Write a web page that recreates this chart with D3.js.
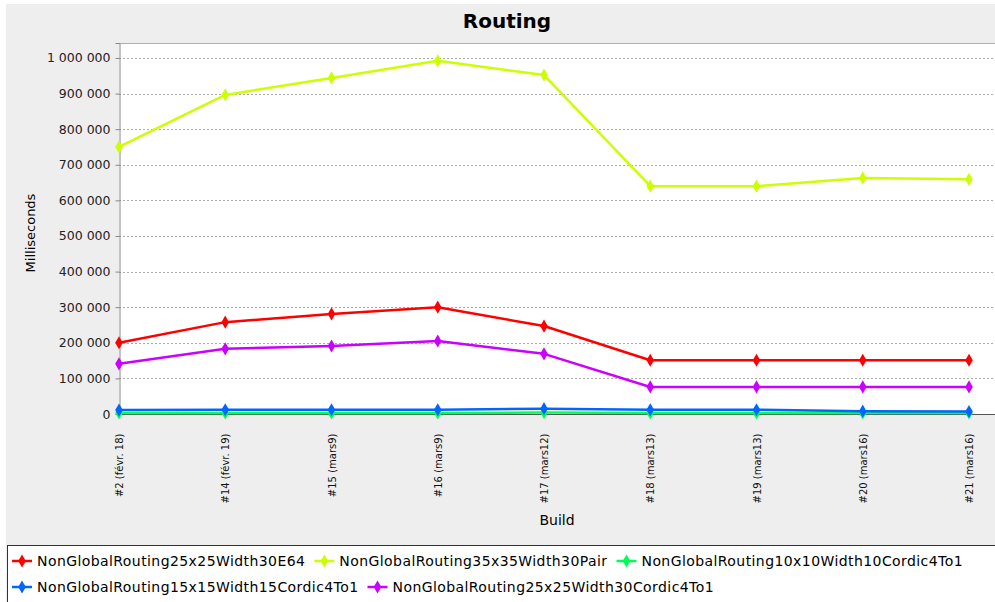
<!DOCTYPE html>
<html>
<head>
<meta charset="utf-8">
<script src="https://cdn.jsdelivr.net/npm/d3@7"></script>
<style>
  body { margin: 0; background: #fff; }
  svg { display: block; font-family: "DejaVu Sans", sans-serif; }
</style>
</head>
<body>
<svg class="chart" width="995" height="602"></svg>
<script>

// Build labels on the x axis.
var builds = ["#2 (févr. 18)", "#14 (févr. 19)", "#15 (mars9)", "#16 (mars9)",
  "#17 (mars12)", "#18 (mars13)", "#19 (mars13)", "#20 (mars16)", "#21 (mars16)"];

// Series names, as in the legend.
var seriesNames = ["NonGlobalRouting25x25Width30E64", "NonGlobalRouting35x35Width30Pair",
  "NonGlobalRouting10x10Width10Cordic4To1", "NonGlobalRouting15x15Width15Cordic4To1",
  "NonGlobalRouting25x25Width30Cordic4To1"];

// Milliseconds per build.
var routing25E64 = [200000, 258000, 281000, 300000, 247000, 151000, 151000, 151000, 151000];
var routing35Pair = [750000, 896000, 944000, 992000, 952000, 640000, 640000, 663000, 659000];
var routing10Cordic = [3000, 3000, 3000, 3000, 4000, 3000, 3000, 3000, 3000];
var routing15Cordic = [11000, 12000, 12000, 12000, 15000, 12000, 12000, 8000, 7000];
var routing25Cordic = [141000, 183000, 191000, 205000, 169000, 76000, 76000, 76000, 76000];

var yTicks = [0, 100000, 200000, 300000, 400000, 500000, 600000, 700000, 800000, 900000, 1000000];

var colors = ["#ff0000", "#ccff00", "#00ff55", "#0066ff", "#cc00ff"];

var seriesValues = [routing25E64, routing35Pair, routing10Cordic, routing15Cordic, routing25Cordic];

function drawChart() {

  var svg = d3.select(".chart");

  // Panel background.
  svg.append("rect")
      .attr("x", 6).attr("y", 4)
      .attr("width", 989).attr("height", 598)
      .attr("fill", "#eeeeee");

  var plot = {left: 119, top: 43, right: 995, bottom: 414};

  x = d3.scalePoint()
      .domain(builds)
      .range([119, 969]);

  y = d3.scaleLinear()
      .domain([0, 1042000])
      .range([plot.bottom, plot.top]);

  // Plot area.
  svg.append("rect")
      .attr("x", plot.left).attr("y", plot.top)
      .attr("width", plot.right - plot.left).attr("height", plot.bottom - plot.top)
      .attr("fill", "#fff");

  svg.append("line")
      .attr("x1", plot.left).attr("x2", plot.right)
      .attr("y1", plot.top + 0.5).attr("y2", plot.top + 0.5)
      .attr("stroke", "#b0b0b0");

  // Title.
  svg.append("text")
      .attr("x", 507).attr("y", 28)
      .attr("text-anchor", "middle")
      .style("font-size", "20px")
      .style("font-weight", "bold")
      .text("Routing");

  drawGrid(svg, plot);
  drawYAxis(svg, plot);
  drawXAxis(svg, plot);
  drawLines(svg);
  drawLegend(svg);
}

/*
* Dashed horizontal grid lines.
*/
function drawGrid(svg, plot) {
  svg.append("g")
      .selectAll("line")
      .data(yTicks.slice(1))
      .enter().append("line")
        .attr("x1", plot.left).attr("x2", plot.right)
        .attr("y1", function(d) { return Math.round(y(d)) + 0.5; })
        .attr("y2", function(d) { return Math.round(y(d)) + 0.5; })
        .attr("stroke", "#aaaaaa")
        .attr("stroke-dasharray", "2,2");
}

/*
* Y axis with space-grouped labels and title.
*/
function drawYAxis(svg, plot) {

  var locale = d3.formatLocale({decimal: ",", thousands: "\u00a0", grouping: [3], currency: ["", ""]});

  var yAxis = d3.axisLeft(y)
      .tickValues(yTicks)
      .tickSize(4)
      .tickPadding(5)
      .tickFormat(locale.format(",d"));

  var g = svg.append("g")
      .attr("transform", "translate(" + (plot.left + 0.5) + ",0)")
      .call(yAxis);
  g.select(".domain").attr("stroke", "#888");
  g.selectAll(".tick line").attr("stroke", "#888");
  g.selectAll(".tick text")
      .attr("fill", "#222")
      .style("font-size", "12.5px")
      .style("font-family", "DejaVu Sans");

  svg.append("text")
      .attr("transform", "translate(35,233) rotate(-90)")
      .attr("text-anchor", "middle")
      .style("font-size", "13px")
      .text("Milliseconds");
}

/*
* X axis with rotated build labels and title.
*/
function drawXAxis(svg, plot) {

  var xAxis = d3.axisBottom(x)
      .tickSize(0)
      .tickPadding(0);

  var g = svg.append("g")
      .attr("transform", "translate(0," + (plot.bottom + 0.5) + ")")
      .call(xAxis);
  g.select(".domain")
      .attr("d", "M" + plot.left + ",0H" + plot.right)
      .attr("stroke", "#555");
  g.selectAll(".tick text")
      .style("text-anchor", "end")
      .style("font-size", "10px")
      .style("font-family", "DejaVu Sans")
      .attr("fill", "#111")
      .attr("y", 0)
      .attr("dy", "0.35em")
      .attr("transform", "translate(0,19) rotate(-90)");

  svg.append("text")
      .attr("x", 557).attr("y", 525)
      .attr("text-anchor", "middle")
      .style("font-size", "14px")
      .text("Build");
}

/*
* Lines with diamond markers.
*/
function drawLines(svg) {

  var line = d3.line()
      .x(function(d, i) { return x(builds[i]); })
      .y(function(d) { return y(d); });

  var diamond = d3.symbol().type(d3.symbolDiamond).size(50);

  seriesValues.forEach(function(values, s) {
    var g = svg.append("g");
    g.append("path")
        .datum(values)
        .attr("d", line)
        .attr("fill", "none")
        .attr("stroke", colors[s])
        .attr("stroke-width", 2.5)
        .attr("stroke-linejoin", "round");
    g.selectAll("path.marker")
        .data(values)
        .enter().append("path")
          .attr("class", "marker")
          .attr("d", diamond)
          .attr("fill", colors[s])
          .attr("transform", function(d, i) { return "translate(" + x(builds[i]) + "," + y(d) + ")"; });
  });
}

/*
* Legend box with flowing items.
*/
function drawLegend(svg) {

  svg.append("rect")
      .attr("x", 7.5).attr("y", 545.5)
      .attr("width", 995).attr("height", 80)
      .attr("fill", "#fff")
      .attr("stroke", "#333");

  var diamond = d3.symbol().type(d3.symbolDiamond).size(50);
  var xPos = 12, row = 0;

  seriesNames.forEach(function(name, s) {
    var item = svg.append("g");
    item.append("line")
        .attr("x1", 0).attr("x2", 20)
        .attr("stroke", colors[s])
        .attr("stroke-width", 2.5);
    item.append("path")
        .attr("d", diamond)
        .attr("transform", "translate(10,0)")
        .attr("fill", colors[s]);
    var label = item.append("text")
        .attr("x", 25)
        .attr("dy", "0.35em")
        .style("font-size", "14px")
        .style("letter-spacing", "0.42px")
        .text(name);
    var w = 25 + label.node().getComputedTextLength();
    if (xPos + w > 985) {
      xPos = 12;
      row++;
    }
    item.attr("transform", "translate(" + xPos + "," + (561 + row * 26) + ")");
    xPos += w + 9;
  });
}

drawChart();
</script>
</body>
</html>
